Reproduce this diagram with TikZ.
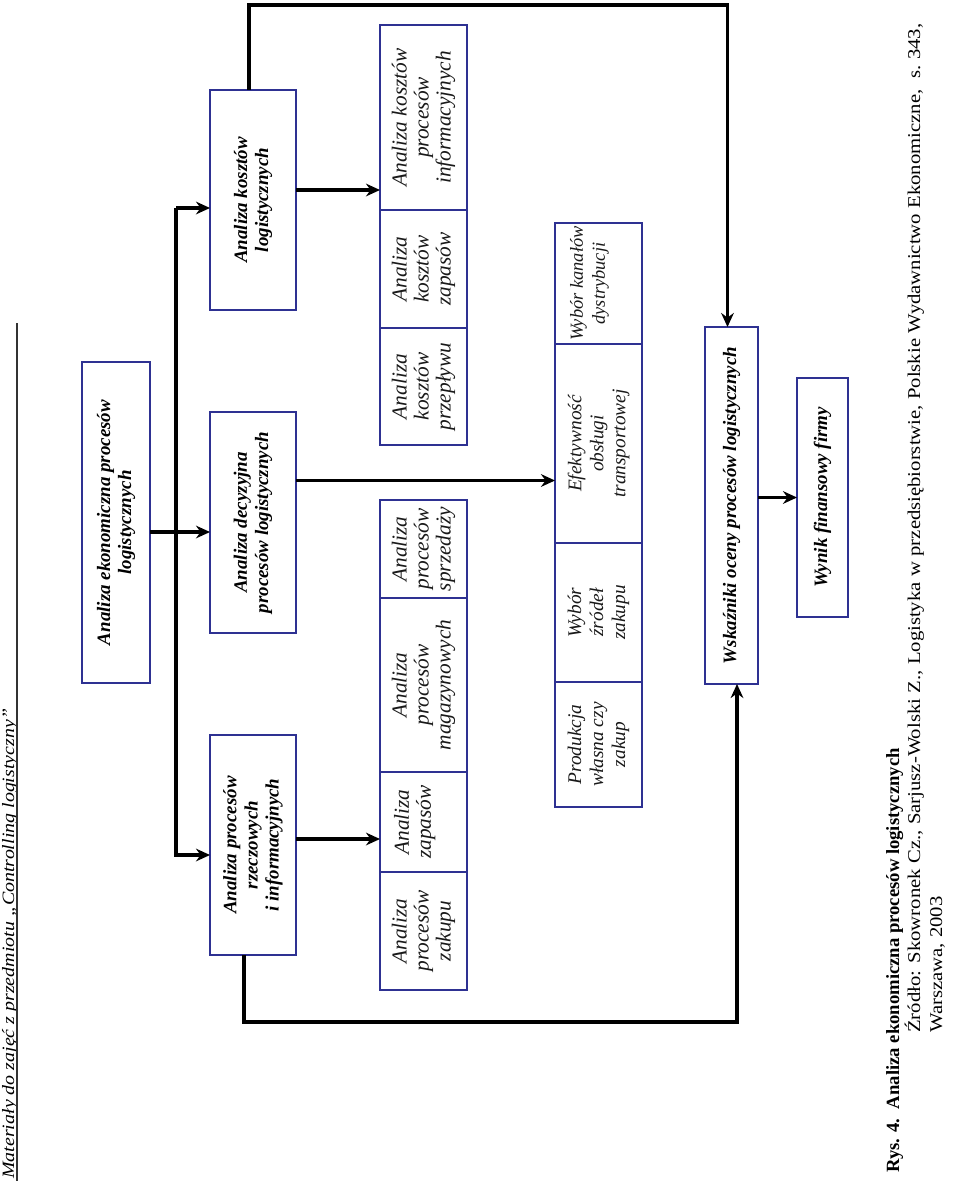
\documentclass[tikz,border=0pt]{standalone}
\usepackage{graphicx}
\usepackage{fontspec}
\setmainfont{Liberation Serif}
\usetikzlibrary{arrows.meta,calc}
\definecolor{boxblue}{RGB}{46,49,146}
\newcommand\mybox[7]{%
  \node[#6, minimum width={(#5-#3)*0.75pt}, minimum height={(#4-#2)*0.75pt}] (#1) at ({(#2+#4)/2},{(#3+#5)/2}) {#7};}
\begin{document}
\begin{tikzpicture}[x=0.75pt,y=-0.75pt,
  bigbox/.style={draw=boxblue, line width=2.2pt, fill=white, rotate=90, inner sep=0pt, outer sep=0pt, align=center, font=\fontsize{14.2}{15.8}\selectfont\bfseries\itshape},
  smallbox/.style={draw=boxblue, line width=2.2pt, fill=white, rotate=90, inner sep=0pt, outer sep=0pt, align=center, text=black!90, font=\fontsize{16}{16.5}\selectfont\itshape},
  smallboxb/.style={smallbox, font=\fontsize{14.5}{16.5}\selectfont\itshape},
  smallboxc/.style={smallbox, font=\fontsize{13.8}{16.5}\selectfont\itshape},
  arr/.style={line width=2.3pt, -{Stealth[length=10.5pt,width=9.5pt]}},
  conn/.style={line width=2.3pt}]
\useasboundingbox (0,0) rectangle (960,1181);
\fill[white] (0,0) rectangle (960,1181);

% header
\node[rotate=90, anchor=base west, inner sep=0pt, font=\fontsize{13}{15}\selectfont\itshape] (hdr) at (14,1179) {\scalebox{1.15}[1]{Materiały do zajęć z przedmiotu „Controlling logistyczny”}};
\coordinate (rule1) at (17,323);
\coordinate (rule2) at (17,1181);
\draw[line width=0.8pt, black!80] (rule1) -- (rule2);

% main boxes
\mybox{eko}{82}{362}{150}{683}{bigbox}{Analiza ekonomiczna procesów\\logistycznych}
\mybox{kos}{210}{90}{296}{310}{bigbox}{Analiza kosztów\\logistycznych}
\mybox{dec}{210}{412}{296}{633}{bigbox}{Analiza decyzyjna\\procesów logistycznych}
\mybox{rze}{210}{735}{296}{955}{bigbox}{Analiza procesów\\rzeczowych\\i informacyjnych}

% column A
\mybox{a1}{380}{25}{467}{210}{smallbox}{Analiza kosztów\\procesów\\informacyjnych}
\mybox{a2}{380}{210}{467}{328}{smallbox}{Analiza\\kosztów\\zapasów}
\mybox{a3}{380}{328}{467}{445}{smallbox}{Analiza\\kosztów\\przepływu}
\mybox{a4}{380}{500}{467}{598}{smallbox}{Analiza\\procesów\\sprzedaży}
\mybox{a5}{380}{598}{467}{772}{smallbox}{Analiza\\procesów\\magazynowych}
\mybox{a6}{380}{772}{467}{872}{smallbox}{Analiza\\zapasów\\\phantom{X}}
\mybox{a7}{380}{872}{467}{990}{smallbox}{Analiza\\procesów\\zakupu}

% column B
\mybox{b1}{555}{223}{642}{344}{smallboxc}{Wybór kanałów\\dystrybucji\\\phantom{X}}
\mybox{b2}{555}{344}{642}{543}{smallboxb}{Efektywność\\obsługi\\transportowej}
\mybox{b3}{555}{543}{642}{682}{smallboxb}{Wybór\\źródeł\\zakupu}
\mybox{b4}{555}{682}{642}{807}{smallboxb}{Produkcja\\własna czy\\zakup}

% evaluation
\mybox{wsk}{705}{327}{758}{684}{bigbox}{Wskaźniki oceny procesów logistycznych}
\mybox{wyn}{797}{378}{848}{617}{bigbox}{Wynik finansowy firmy}

% connectors
\coordinate (sp1) at (176,208);
\coordinate (sp2) at (176,855);
\draw[arr] (sp1) -- (sp1 -| kos.north);
\draw[arr] (sp1) -- (sp2) -- (sp2 -| rze.north);
\coordinate (e1) at ($(eko.south)+(0,9.5)$);
\draw[arr] (e1) -- (e1 -| dec.north);

\coordinate (k1) at ($(kos.south)+(0,-10)$);
\draw[arr] (k1) -- (k1 -| a1.north);
\coordinate (d1) at ($(dec.south)+(0,-42)$);
\draw[arr] (d1) -- (d1 -| b2.north);
\coordinate (r1) at ($(rze.south)+(0,-6)$);
\draw[arr] (r1) -- (r1 -| a6.north);

\coordinate (kt) at ($(kos.east)+(-4,0)$);
\coordinate (wt) at ($(wsk.east)+(-4,0)$);
\coordinate (topy) at (0,5);
\draw[arr] (kt) -- (kt |- topy) -- (wt |- topy) -- (wt);

\coordinate (rb) at ($(rze.west)+(-9,0)$);
\coordinate (wb) at ($(wsk.west)+(5.5,0)$);
\coordinate (boty) at (0,1022);
\draw[arr] (rb) -- (rb |- boty) -- (wb |- boty) -- (wb);

\draw[arr] (wyn.north -| wsk.south) -- (wyn.north);

% caption
\node[rotate=90, anchor=base west, inner sep=0pt, font=\fontsize{14}{16}\selectfont\bfseries] (cap) at (899,1173) {Rys. 4.\ \ Analiza ekonomiczna procesów logistycznych};
\node[rotate=90, anchor=base west, inner sep=0pt, font=\fontsize{13.5}{16}\selectfont] (src1) at (920,1033) {\scalebox{1.15}[1]{\hbox to 658pt{Źródło: Skowronek Cz., Sarjusz-Wolski Z., Logistyka w przedsiębiorstwie, Polskie Wydawnictwo Ekonomiczne,\ \ s.~343,}}};
\node[rotate=90, anchor=base west, inner sep=0pt, font=\fontsize{13.5}{16}\selectfont] (src2) at (942,1033) {\scalebox{1.15}[1]{Warszawa, 2003}};
\end{tikzpicture}
\end{document}
